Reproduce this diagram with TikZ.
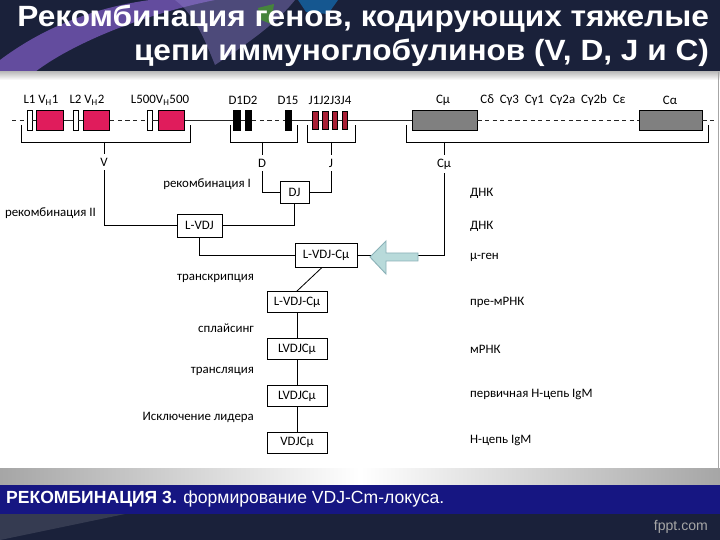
\documentclass[tikz,border=0pt]{standalone}
\usepackage{fontspec}
\setmainfont{Carlito}
\newfontfamily\titlefont{Liberation Sans}
\usetikzlibrary{arrows, calc, shapes, positioning}

\definecolor{vpink}{RGB}{224,28,92}
\definecolor{jred}{RGB}{168,30,52}
\definecolor{cgray}{RGB}{128,128,128}
\definecolor{navy}{RGB}{26,33,58}
\definecolor{bandblue}{RGB}{22,22,130}
\definecolor{ribbon}{RGB}{112,84,176}
\definecolor{lavender}{RGB}{140,124,200}
\definecolor{arrowfill}{RGB}{184,218,218}
\definecolor{arrowline}{RGB}{140,178,184}

\begin{document}
\begin{tikzpicture}[x=0.03cm,y=-0.03cm,font=\fontsize{11}{12}\selectfont,node distance=0.75cm]

\tikzstyle{gene}=[rectangle,draw,line width=0.7pt,minimum height=0.6cm,inner sep=0pt];
\tikzstyle{lead}=[gene,fill=white,minimum width=0.15cm];
\tikzstyle{vseg}=[gene,fill=vpink,minimum width=0.8cm];
\tikzstyle{dseg}=[gene,fill=black,minimum width=0.2cm];
\tikzstyle{jseg}=[gene,fill=jred,minimum width=0.16cm,minimum height=0.54cm];
\tikzstyle{cseg}=[gene,fill=cgray,minimum width=1.95cm];
\tikzstyle{chain}=[rectangle,draw,line width=0.8pt,minimum width=1.8cm,minimum height=0.63cm,inner sep=2pt];
\tikzstyle{dna}=[line width=0.8pt,draw=black!85];
\tikzstyle{gap}=[dna,dash pattern=on 3.5pt off 3pt];
\tikzstyle{link}=[line width=0.7pt];

% slide background
\fill[white] (0,0) rectangle (720,540);
\fill[navy] (0,0) rectangle (720,72);
\fill[ribbon,opacity=0.85] (0,60) .. controls (40,30) and (90,8) .. (150,0) -- (215,0) .. controls (140,15) and (70,45) .. (35,72) -- (0,72) -- cycle;
\fill[lavender,opacity=0.45] (175,0) -- (295,0) .. controls (275,25) and (245,45) .. (215,65) .. controls (205,40) and (195,15) .. cycle;
\fill[green!50!olive,opacity=0.5] (258,8) -- (274,4) -- (271,24) -- (261,20) -- cycle;
\fill[cyan!60!blue,opacity=0.6] (298,0) -- (338,0) -- (328,14) -- (306,12) -- cycle;
\shade[top color=gray!50, bottom color=white] (0,72) rectangle (720,80);
\draw[gray!70,line width=1pt] (718.5,72) -- (718.5,485);
\shade[left color=gray!70, right color=gray!70, middle color=white] (0,468) rectangle (720,485);
\fill[bandblue] (0,485) rectangle (720,514);
\fill[navy] (0,514) rectangle (720,540);
\fill[white,opacity=0.12] (0,514) -- (125,514) -- (0,540) -- cycle;

\node(TITLE) [anchor=east,align=right,text=white,font=\titlefont\bfseries\fontsize{25}{29}\selectfont] at (713,36) {\scalebox{1.08}[1]{Рекомбинация генов, кодирующих тяжелые}\\\scalebox{1.08}[1]{цепи иммуноглобулинов (V, D, J и C)}};
\node(CAPTION) [anchor=west,text=white,font=\titlefont\fontsize{15}{17}\selectfont] at (2,499) {\textbf{РЕКОМБИНАЦИЯ 3.} формирование VDJ-Cm-локуса.};
\node(FPPT) [anchor=east,text=gray!70,font=\titlefont\fontsize{12}{14}\selectfont] at (712,527) {fppt.com};

% heavy chain locus
\coordinate (START) at (12,120);
\coordinate (END) at (714,120);
\node(L1) [lead] at (29.5,120) {};
\node(V1) [vseg] at (50,120) {};
\node(L2) [lead] at (75.5,120) {};
\node(V2) [vseg] at (96.5,120) {};
\node(L500) [lead] at (149.5,120) {};
\node(V500) [vseg] at (171.5,120) {};
\node(D1) [dseg] at (237,120) {};
\node(D2) [dseg] at (248.5,120) {};
\node(D15) [dseg] at (288.5,120) {};
\node(J1) [jseg] at (315.5,120) {};
\node(J2) [jseg] at (325.5,120) {};
\node(J3) [jseg] at (335,120) {};
\node(J4) [jseg] at (345,120) {};
\node(CMU) [cseg] at (444.5,120) {};
\node(CALPHA) [cseg,minimum width=1.89cm] at (670.5,120) {};

\draw[gap] (START) -- (L1);
\draw[dna] (L1) -- (V1) -- (L2) -- (V2);
\draw[gap] (V2) -- (L500);
\draw[dna] (L500) -- (V500) -- (D1) -- (D2);
\draw[gap] (D2) -- (D15);
\draw[dna] (D15) -- (J1) -- (J2) -- (J3) -- (J4) -- (CMU);
\draw[gap] (CMU) -- (CALPHA) -- (END);

\node(LV1) at (41,100) {L1 V\textsubscript{H}1};
\node(LV2) at (87,100) {L2 V\textsubscript{H}2};
\node(LV500) at (160,100) {L500V\textsubscript{H}500};
\node(LD12) at (243,100) {D1D2};
\node(LD15) at (288,100) {D15};
\node(LJ) at (330,100) {J1J2J3J4};
\node(LCMU) at (443,100) {Cμ};
\node(LCREST) at (553,100) {Cδ\hspace{5pt}Cγ3\hspace{5pt}Cγ1\hspace{5pt}Cγ2a\hspace{5pt}Cγ2b\hspace{5pt}Cε};
\node(LCALPHA) at (670,100) {Cα};

% brackets
\draw[link] (21,125) |- (190,142) -- (190,125);
\draw[link] (230,125) |- (297,142) -- (297,125);
\draw[link] (307,125) |- (355,142) -- (355,125);
\draw[link] (406,125) |- (708,142) -- (708,125);
\coordinate (VB) at (104,142);
\coordinate (DB) at (262,142);
\coordinate (JB) at (331,142);
\coordinate (CB) at (444,142);

\node(VLAB) at (104,162) {V};
\node(DLAB) at (262,163) {D};
\node(JLAB) at (331,163) {J};
\node(CLAB) at (444,164) {Cμ};
\draw[link] (VB) -- (VLAB);
\draw[link] (DB) -- (DLAB);
\draw[link] (JB) -- (JLAB);
\draw[link] (CB) -- (CLAB);

% rearrangement
\node(DJ) [chain,minimum width=0.87cm,minimum height=0.66cm] at (294.5,192) {DJ};
\node(LVDJ) [chain,minimum width=1.35cm,minimum height=0.69cm] at (199.5,225.5) {L-VDJ};
\node(LVDJC) [chain,minimum width=1.86cm,minimum height=0.72cm] at (326,255) {L-VDJ-Cμ};
\node(PRE) [chain] at (297,302) {L-VDJ-Cμ};
\node(MRNA) [chain,below= of PRE] {LVDJCμ};
\node(PRIM) [chain,below= of MRNA] {LVDJCμ};
\node(HCHAIN) [chain,below= of PRIM] {VDJCμ};

\draw[link] (DLAB) |- (DJ);
\draw[link] (JLAB) |- (DJ);
\draw[link] (DJ) |- (LVDJ);
\draw[link] (VLAB) |- (LVDJ);
\draw[link] (LVDJ) |- (LVDJC);
\draw[link] (CLAB) |- (LVDJC);
\draw[link] ($(LVDJC.south)+(-4,0)$) -- (PRE.north);
\draw[link] (PRE) -- (MRNA);
\draw[link] (MRNA) -- (PRIM);
\draw[link] (PRIM) -- (HCHAIN);

\filldraw[fill=arrowfill,draw=arrowline,line width=0.8pt] (370,257) -- (386,241) -- (386,253) -- (418,253) -- (418,261) -- (386,261) -- (386,274) -- cycle;

% step labels
\node(REC1) [anchor=east] at (255,184) {рекомбинация I};
\node(REC2) [anchor=east] at (100,213) {рекомбинация II};
\node(TRANSC) [anchor=east] at (258,278) {транскрипция};
\node(SPLICE) [anchor=east] at (258,328) {сплайсинг};
\node(TRANSL) [anchor=east] at (258,371) {трансляция};
\node(LEADER) [anchor=east] at (258,417) {Исключение лидера};

\node(DNA1) [anchor=west] at (466,193) {ДНК};
\node(DNA2) [anchor=west] at (466,226) {ДНК};
\node(MUGENE) [anchor=west] at (466,257) {μ-ген};
\node(PREM) [anchor=west] at (466,302) {пре-мРНК};
\node(MRNAL) [anchor=west] at (466,349) {мРНК};
\node(PRIML) [anchor=west] at (466,394) {первичная Н-цепь IgM};
\node(HL) [anchor=west] at (466,440) {Н-цепь IgM};

\end{tikzpicture}
\end{document}
